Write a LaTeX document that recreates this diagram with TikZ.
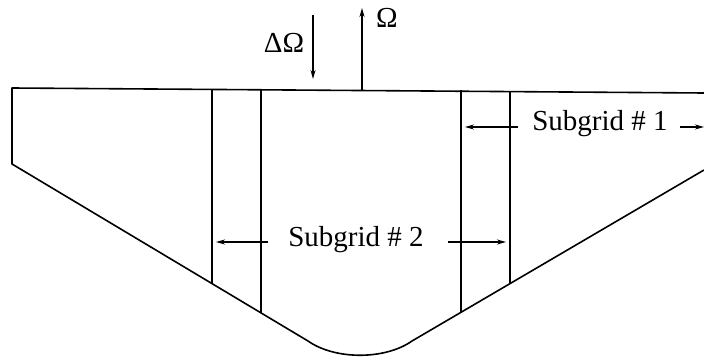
\documentclass[tikz,border=0pt]{standalone}
\usepackage{fontspec}
\setmainfont{Liberation Serif}
\usetikzlibrary{arrows.meta}
\tikzset{
  outline/.style={line width=1.6pt, line join=round},
  gridline/.style={line width=1.6pt},
  dimarrow/.style={line width=1.4pt, -{Stealth[length=9pt,width=5pt]}},
  lbl/.style={inner sep=0pt, anchor=base, font=\fontsize{29}{30}\selectfont}
}
\begin{document}
\begin{tikzpicture}[x=1pt,y=-1pt]
\useasboundingbox (0,0) rectangle (704,358);
% outline coordinates
\coordinate (tl) at (12,88);
\coordinate (tr) at (704,93);
\coordinate (lc) at (12,164);
\coordinate (lb) at (308,341);
\coordinate (rb) at (412,341);
\coordinate (re) at (704,170);
\draw[outline] (re) -- (rb) .. controls (385,360) and (335,360) .. (lb) -- (lc) -- (tl) -- (tr);
% subgrid boundaries
\coordinate (a1) at (212,88.9);  \coordinate (a2) at (212,284);
\coordinate (b1) at (261,89.2);  \coordinate (b2) at (261,313.4);
\coordinate (c1) at (461,90.5);  \coordinate (c2) at (461,313);
\coordinate (d1) at (510,90.9);  \coordinate (d2) at (510,284);
\draw[gridline] (a1) -- (a2);
\draw[gridline] (b1) -- (b2);
\draw[gridline] (c1) -- (c2);
\draw[gridline] (d1) -- (d2);
% Omega arrows
\coordinate (om0) at (362,90);
\coordinate (om1) at (362,8);
\draw[dimarrow] (om0) -- (om1);
\coordinate (dom0) at (313,15);
\coordinate (dom1) at (313,79);
\draw[dimarrow] (dom0) -- (dom1);
\node[lbl] (omega) at (387,28) {Ω};
\node[lbl] (domega) at (284,53) {ΔΩ};
% Subgrid 1
\node[lbl] (sg1) at (600,131) {Subgrid \# 1};
\coordinate (s1a) at (518,127);
\coordinate (s1b) at (465,127);
\coordinate (s1c) at (680,127);
\coordinate (s1d) at (704,127);
\draw[dimarrow] (s1a) -- (s1b);
\draw[dimarrow] (s1c) -- (s1d);
% Subgrid 2
\node[lbl] (sg2) at (356,247) {Subgrid \# 2};
\coordinate (s2a) at (268,242);
\coordinate (s2b) at (216,242);
\coordinate (s2c) at (448,242);
\coordinate (s2d) at (506,242);
\draw[dimarrow] (s2a) -- (s2b);
\draw[dimarrow] (s2c) -- (s2d);
\end{tikzpicture}
\end{document}
